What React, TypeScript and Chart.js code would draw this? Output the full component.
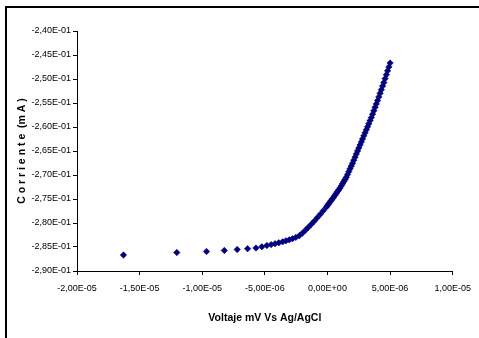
import React, { useEffect, useRef } from "react";
import { Chart, registerables } from "chart.js";

Chart.register(...registerables);

// Voltaje (units of 1e-6) and Corriente (units of 1e-3 mA)
const voltajeE6 = [
  -16.29, -12.03, -9.66, -8.24, -7.21, -6.38, -5.71, -5.24, -4.84, -4.5, -4.19,
  -3.89, -3.58, -3.32, -3.05, -2.79, -2.53, -2.26, -2.0, -1.76, -1.53, -1.29,
  -1.05, -0.82, -0.58, -0.34, -0.1,
  0.0, 0.1, 0.2, 0.3, 0.4, 0.5, 0.6, 0.7, 0.8, 0.9,
  1.0, 1.1, 1.2, 1.3, 1.4, 1.5, 1.6, 1.7, 1.8, 1.9,
  2.0, 2.1, 2.2, 2.3, 2.4, 2.5, 2.6, 2.7, 2.8, 2.9,
  3.0, 3.1, 3.2, 3.3, 3.4, 3.5, 3.6, 3.7, 3.8, 3.9,
  4.0, 4.1, 4.2, 4.3, 4.4, 4.5, 4.6, 4.7, 4.8, 4.9, 5.0,
];
const corrienteE3 = [
  -286.67, -286.15, -285.94, -285.73, -285.52, -285.35, -285.21, -284.96, -284.69, -284.5, -284.31,
  -284.13, -283.92, -283.71, -283.5, -283.27, -283.0, -282.67, -282.1, -281.5, -280.9, -280.25,
  -279.6, -278.9, -278.2, -277.45, -276.7,
  -276.35, -276.0, -275.64, -275.29, -274.93, -274.58, -274.2, -273.83, -273.45, -273.08,
  -272.71, -272.26, -271.82, -271.37, -270.93, -270.48, -269.89, -269.3, -268.71, -268.13,
  -267.54, -266.91, -266.28, -265.64, -265.01, -264.38, -263.75, -263.11, -262.48, -261.84,
  -261.21, -260.58, -259.94, -259.31, -258.67, -258.04, -257.33, -256.61, -255.9, -255.19,
  -254.48, -253.73, -252.98, -252.23, -251.48, -250.73, -249.92, -249.1, -248.29, -247.48, -246.67,
];

const xTickValues = [-2e-5, -1.5e-5, -1e-5, -5e-6, 0, 5e-6, 1e-5];
const xTickLabels = ["-2,00E-05", "-1,50E-05", "-1,00E-05", "-5,00E-06", "0,00E+00", "5,00E-06", "1,00E-05"];
const yTickValues = [-0.29, -0.285, -0.28, -0.275, -0.27, -0.265, -0.26, -0.255, -0.25, -0.245, -0.24];
const yTickLabels = [
  "-2,90E-01", "-2,85E-01", "-2,80E-01", "-2,75E-01", "-2,70E-01", "-2,65E-01",
  "-2,60E-01", "-2,55E-01", "-2,50E-01", "-2,45E-01", "-2,40E-01",
];

const xTitle = "Voltaje mV Vs Ag/AgCl";
const yTitle = "C o r r i e n t e  (m A )";

const FONT = "'Liberation Sans', Arial, sans-serif";
const COLOR = "#000080";

export default function App() {
  const ref = useRef<HTMLCanvasElement>(null);

  useEffect(() => {
    if (!ref.current) return;
    const data = voltajeE6.map((v, i) => ({ x: v * 1e-6, y: corrienteE3[i] * 1e-3 }));
    const chart = new Chart(ref.current, {
      type: "scatter",
      data: {
        datasets: [
          {
            data,
            pointStyle: "rectRot",
            pointRadius: 3.2,
            pointBorderWidth: 0.6,
            backgroundColor: COLOR,
            borderColor: COLOR,
          },
        ],
      },
      options: {
        animation: false,
        responsive: false,
        devicePixelRatio: 1,
        layout: { padding: { left: 0, right: 22, top: 31, bottom: 0 } },
        plugins: { legend: { display: false }, tooltip: { enabled: false } },
        scales: {
          x: {
            type: "linear",
            min: -2e-5,
            max: 1e-5,
            afterFit: (s: any) => {
              s.height = 67;
            },
            afterBuildTicks: (s: any) => {
              s.ticks = xTickValues.map((v) => ({ value: v }));
            },
            ticks: {
              autoSkip: false,
              maxRotation: 0,
              padding: 8,
              color: "#000",
              font: { family: FONT, size: 9 },
              callback: (_v: any, i: number) => xTickLabels[i],
            },
            grid: { display: true, drawOnChartArea: false, drawTicks: true, tickLength: 4, color: "#000" },
            border: { display: true, color: "#000", width: 1 },
            title: {
              display: true,
              text: xTitle,
              color: "#000",
              font: { family: FONT, size: 10.5, weight: "bold" },
              padding: { top: 0, bottom: 13.5 },
            },
          },
          y: {
            type: "linear",
            min: -0.29,
            max: -0.24,
            afterFit: (s: any) => {
              s.width = 77;
            },
            afterBuildTicks: (s: any) => {
              s.ticks = yTickValues.map((v) => ({ value: v }));
            },
            ticks: {
              autoSkip: false,
              padding: 2,
              color: "#000",
              font: { family: FONT, size: 9 },
              callback: (_v: any, i: number) => yTickLabels[i],
            },
            grid: { display: true, drawOnChartArea: false, drawTicks: true, tickLength: 4, color: "#000" },
            border: { display: true, color: "#000", width: 1 },
            title: {
              display: true,
              text: yTitle,
              color: "#000",
              font: { family: FONT, size: 10.5, weight: "bold" },
              padding: { top: 15.5, bottom: 0 },
            },
          },
        },
      },
    });
    return () => chart.destroy();
  }, []);

  return (
    <div style={{ position: "fixed", left: 0, top: 0, width: 479, height: 338, background: "#fff" }}>
      <canvas ref={ref} width={479} height={338} style={{ display: "block" }} />
      <div
        style={{
          position: "absolute",
          left: 5,
          top: 6,
          width: 600,
          height: 600,
          borderLeft: "2px solid #000",
          borderTop: "2px solid #000",
          pointerEvents: "none",
        }}
      />
    </div>
  );
}
